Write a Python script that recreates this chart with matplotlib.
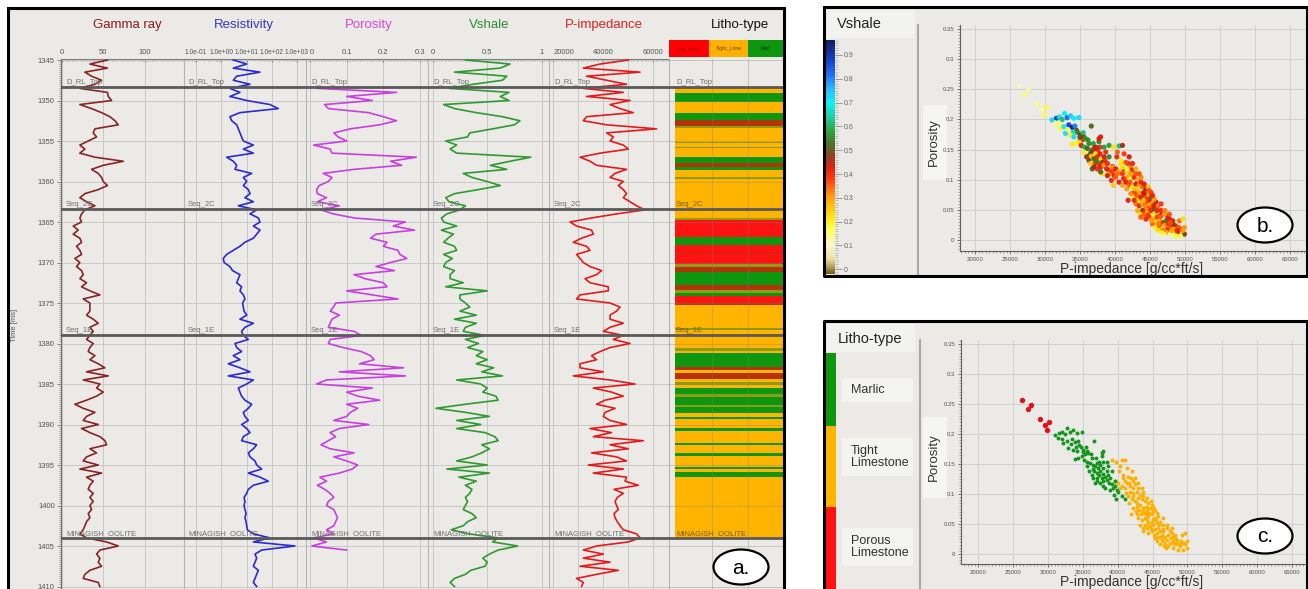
import numpy as np
import matplotlib
matplotlib.use("Agg")
import matplotlib.pyplot as plt
import matplotlib.ticker as mt
from matplotlib.patches import Rectangle, Ellipse
from matplotlib.lines import Line2D
from matplotlib.colors import LinearSegmentedColormap, Normalize

plt.rcParams['font.family'] = ['Liberation Sans', 'DejaVu Sans']

# ---------------------------------------------------------------- data
depth = np.arange(1345.0, 1410.01, 0.5)   # sample grid (ms)

gamma_ray = [55, 34, 55, 28, 36, 48, 40, 22, 55, 56,
             60, 22, 36, 48, 58, 64, 68, 40, 38, 42,
             32, 22, 28, 22, 40, 74, 50, 36, 44, 48,
             50, 55, 44, 28, 22, 30, 40, 28, 24, 22,
             24, 14, 20, 14, 22, 24, 18, 22, 24, 16,
             22, 18, 24, 26, 22, 30, 24, 34, 46, 26,
             34, 34, 34, 30, 38, 44, 34, 38, 34, 30,
             38, 34, 32, 40, 34, 44, 52, 30, 56, 26,
             46, 42, 50, 42, 30, 16, 26, 40, 30, 26,
             44, 24, 34, 46, 52, 54, 34, 42, 30, 26,
             44, 22, 48, 30, 38, 34, 32, 38, 34, 38,
             34, 36, 32, 34, 30, 28, 26, 22, 30, 54,
             68, 46, 42, 46, 44, 48, 34, 28, 26, 44,
             46]

resistivity = [3.0, 10.2, 3.0, 34, 4.1, 3.0, 13.8, 2.2, 5.5, 2.2,
               10.2, 85, 182, 5.5, 2.2, 2.6, 4.1, 4.75, 5.5, 6.4,
               7.5, 18.7, 7.5, 18.7, 1.64, 3.0, 4.1, 3.5, 16, 7.5,
               10.2, 7.5, 11.8, 13.8, 8.7, 18.7, 4.75, 25.3, 13.8, 29.4,
               34.3, 18.7, 34.3, 25.3, 18.7, 8.7, 5.5, 3.0, 1.64, 1.2,
               1.3, 2.2, 2.8, 5.5, 4.75, 4.1, 6.4, 5.5, 7.5, 8.7,
               7.0, 7.5, 8.0, 10.2, 5.5, 18.7, 8.7, 6.4, 7.5, 11.8,
               3.5, 4.1, 6.4, 3.0, 5.5, 1.9, 5.5, 13.8, 1.9, 18.7,
               10.2, 4.75, 5.5, 6.4, 8.7, 16, 11.8, 7.5, 8.7, 11.8,
               6.4, 10.2, 13.8, 7.5, 6.4, 25.3, 18.7, 11.8, 13.8, 21.7,
               25.3, 40, 11.8, 34.3, 73, 18.7, 11.8, 10.2, 8.0, 8.7,
               8.0, 8.7, 9.6, 8.7, 9.6, 10.2, 10.8, 18.7, 85, 18.7,
               830, 40, 21.7, 25.3, 21.7, 18.7, 29.4, 25.3, 21.7, 18.7,
               25.3]

nan = np.nan
porosity = [nan, nan, nan, nan, nan, nan, nan, 0.02, 0.236, 0.10,
            0.17, 0.04, 0.05, 0.16, 0.20, 0.236, 0.19, 0.11, 0.065, 0.077,
            0.10, 0.01, 0.055, 0.06, 0.29, 0.22, 0.25, 0.12, 0.036, 0.06,
            0.05, 0.025, 0.018, 0.02, 0.045, 0.02, 0.08, 0.03, 0.064, 0.12,
            0.26, 0.227, 0.285, 0.18, 0.165, 0.21, 0.20, 0.24, 0.245, 0.264,
            0.22, 0.18, 0.23, 0.12, 0.15, 0.20, 0.21, 0.10, 0.17, 0.24,
            0.07, 0.064, 0.055, 0.08, 0.06, 0.055, 0.05, 0.12, 0.14, 0.055,
            0.05, 0.09, 0.14, 0.165, 0.175, 0.135, 0.255, 0.08, 0.26, 0.045,
            0.018, 0.17, 0.10, 0.13, 0.19, 0.10, 0.13, 0.11, 0.10, 0.065,
            0.16, 0.08, 0.055, 0.07, 0.05, 0.03, 0.055, 0.12, 0.065, 0.10,
            0.13, 0.115, 0.08, 0.027, 0.045, 0.02, 0.04, 0.055, 0.065, 0.05,
            0.045, 0.065, 0.07, 0.075, 0.07, 0.065, 0.045, 0.065, 0.01, 0.045,
            0.005, 0.10, nan, nan, nan, nan, nan, nan, nan, nan,
            nan]

vshale = [0.30, 0.71, 0.62, 0.20, 0.68, 0.64, 0.37, 0.15, 0.70, 0.62,
          0.70, 0.10, 0.20, 0.40, 0.64, 0.80, 0.75, 0.55, 0.34, 0.32,
          0.12, 0.22, 0.16, 0.22, 0.90, 0.71, 0.53, 0.68, 0.28, 0.36,
          0.50, 0.62, 0.42, 0.20, 0.12, 0.15, 0.30, 0.25, 0.13, 0.08,
          0.10, 0.22, 0.08, 0.19, 0.14, 0.10, 0.20, 0.22, 0.10, 0.18,
          0.12, 0.10, 0.20, 0.16, 0.16, 0.28, 0.12, 0.50, 0.25, 0.25,
          0.30, 0.34, 0.25, 0.40, 0.20, 0.40, 0.30, 0.28, 0.48, 0.30,
          0.42, 0.32, 0.46, 0.40, 0.50, 0.40, 0.56, 0.45, 0.64, 0.22,
          0.44, 0.50, 0.46, 0.58, 0.60, 0.30, 0.03, 0.30, 0.52, 0.22,
          0.44, 0.22, 0.48, 0.57, 0.60, 0.45, 0.52, 0.45, 0.36, 0.22,
          0.50, 0.13, 0.52, 0.24, 0.40, 0.30, 0.36, 0.34, 0.30, 0.32,
          0.30, 0.28, 0.36, 0.40, 0.32, 0.28, 0.17, 0.33, 0.60, 0.55,
          0.78, 0.60, 0.52, 0.46, 0.50, 0.48, 0.35, 0.30, 0.20, 0.16,
          0.20]

p_impedance = [50000, 38700, 32000, 54700, 33300, 41300, 49300, 32000, 48000, 33300,
               50700, 42700, 46700, 52000, 33300, 32000, 41300, 61300, 41300, 44000,
               42700, 48000, 50000, 38700, 30700, 34700, 37300, 49300, 44700, 42700,
               48000, 46000, 48000, 49300, 48000, 50700, 53300, 56700, 45300, 35300,
               26700, 29300, 35300, 36000, 31300, 28000, 33300, 34700, 29300, 30700,
               32000, 34700, 39300, 37300, 32700, 34700, 42000, 42000, 30700, 29300,
               42700, 46700, 45300, 42700, 42700, 48000, 42700, 40000, 48000, 44000,
               50700, 42700, 38700, 35300, 37300, 30700, 30700, 40000, 28000, 42700,
               52700, 36000, 43300, 48000, 40700, 37300, 44700, 40700, 40000, 42700,
               49300, 34700, 43300, 36000, 56000, 42700, 50000, 35300, 45300, 49300,
               34000, 48000, 36000, 49300, 48700, 54000, 44300, 48000, 45600, 44700,
               45300, 46000, 44300, 44700, 45600, 46700, 48000, 53300, 54700, 50000,
               37300, 32000, 40000, 32000, 42700, 30700, 46000, 37300, 29300, 32000,
               31300]

horizon_depth = [1348.35, 1363.35, 1378.95, 1404.0]
horizon_name = ['D_RL_Top', 'Seq_2C', 'Seq_1E', 'MINAGISH_OOLITE']

litho_bounds = [1348.4, 1349.1, 1350.2, 1351.5, 1352.4, 1353.15, 1353.4, 1355.1, 1355.25,
                1355.75, 1355.9, 1357.0, 1357.7, 1358.2, 1358.6, 1359.45, 1359.7, 1364.5,
                1364.75, 1366.85, 1367.85, 1368.7, 1368.85, 1370.2, 1370.55, 1371.15, 1372.8,
                1373.4, 1373.75, 1374.15, 1375.0, 1375.25, 1378.1, 1378.35, 1380.55, 1380.95,
                1381.2, 1382.9, 1383.3, 1383.65, 1384.4, 1384.75, 1385.1, 1385.5, 1386.25,
                1386.6, 1387.6, 1387.85, 1388.6, 1389.05, 1389.3, 1390.45, 1390.8, 1392.3,
                1392.55, 1393.5, 1393.9, 1395.25, 1395.5, 1395.85, 1396.5, 1404.0]
litho_code = ['T', 'M', 'T', 'M', 'B', 'O', 'T', 'O', 'T', 'O', 'T', 'M', 'B', 'M', 'T', 'O',
              'T', 'O', 'P', 'M', 'P', 'B', 'P', 'O', 'B', 'M', 'B', 'O', 'M', 'P', 'B', 'T',
              'O', 'T', 'O', 'T', 'M', 'B', 'T', 'B', 'T', 'O', 'T', 'M', 'O', 'M', 'O', 'M',
              'T', 'M', 'T', 'M', 'T', 'M', 'T', 'M', 'T', 'M', 'T', 'M', 'T']

# crossplot samples, by litho-type
porous_imp = [26320, 27660, 27090, 28810, 30200, 29530, 29910]
porous_por = [0.256, 0.249, 0.241, 0.225, 0.220, 0.215, 0.207]
porous_vsh = [0.10, 0.12, 0.15, 0.14, 0.18, 0.12, 0.16]

marl_imp = [31010, 31630, 32060, 32450, 32780, 33160, 33640, 34120, 34840, 36610,
            32210, 32690, 33400, 33880, 34270, 34500, 34030, 32930, 33640, 34700,
            35080, 35560, 35320, 35800, 34840, 34360, 33880, 35170, 35650, 36280,
            36040, 36520, 36990, 36750, 37470, 37860, 37950, 37710, 37230, 36420,
            35940, 36610, 36990, 37470, 37950, 38430, 38670, 38190, 37710, 37090,
            36750, 37950, 38430, 38910, 39150, 39630, 39390, 39870, 38910, 38190,
            39480, 40110, 40580, 41060, 39770, 36900, 36130, 37280, 35460, 34980,
            34120, 33260, 32015, 31490, 35560, 36280, 37380, 37860, 38430, 38570,
            39150, 38810, 39580, 37950, 37470, 36990, 36520, 37710]
marl_por = [0.199, 0.202, 0.204, 0.200, 0.210, 0.203, 0.206, 0.202, 0.203, 0.189,
            0.185, 0.188, 0.191, 0.187, 0.189, 0.182, 0.179, 0.177, 0.174, 0.178,
            0.174, 0.171, 0.166, 0.168, 0.163, 0.160, 0.159, 0.157, 0.154, 0.160,
            0.152, 0.149, 0.152, 0.146, 0.148, 0.154, 0.171, 0.163, 0.143, 0.142,
            0.138, 0.139, 0.135, 0.138, 0.133, 0.138, 0.146, 0.129, 0.126, 0.127,
            0.118, 0.121, 0.124, 0.127, 0.116, 0.122, 0.110, 0.107, 0.107, 0.110,
            0.099, 0.104, 0.096, 0.091, 0.091, 0.160, 0.166, 0.154, 0.178, 0.170,
            0.171, 0.183, 0.192, 0.194, 0.146, 0.132, 0.131, 0.143, 0.154, 0.132,
            0.138, 0.118, 0.114, 0.113, 0.118, 0.122, 0.127, 0.168]
marl_vsh = [0.72, 0.85, 0.68, 0.62, 0.70, 0.82, 0.74, 0.70, 0.72, 0.52,
            0.18, 0.70, 0.86, 0.92, 0.80, 0.50, 0.66, 0.72, 0.20, 0.55,
            0.48, 0.46, 0.40, 0.58, 0.22, 0.18, 0.20, 0.42, 0.60, 0.56,
            0.52, 0.58, 0.40, 0.48, 0.42, 0.40, 0.42, 0.55, 0.22, 0.50,
            0.46, 0.25, 0.52, 0.40, 0.22, 0.44, 0.40, 0.50, 0.40, 0.38,
            0.52, 0.42, 0.30, 0.40, 0.36, 0.42, 0.30, 0.40, 0.44, 0.22,
            0.40, 0.35, 0.42, 0.30, 0.25, 0.58, 0.56, 0.45, 0.62, 0.50,
            0.72, 0.16, 0.15, 0.14, 0.20, 0.48, 0.55, 0.42, 0.58, 0.40,
            0.55, 0.42, 0.38, 0.52, 0.40, 0.45, 0.24, 0.42]

tight_imp = [39150, 39770, 40580, 41060, 40340, 40250, 40820, 39630, 40110, 40580,
             41060, 41300, 41780, 41880, 42160, 42500, 41780, 42260, 42740, 42980,
             43220, 41540, 42020, 42500, 42980, 43460, 43700, 43940, 43220, 42740,
             42260, 41880, 42640, 43120, 43600, 44080, 44410, 44650, 44270, 43790,
             43310, 42980, 43460, 43940, 44410, 44890, 45130, 45370, 44890, 44410,
             43940, 43600, 44170, 44650, 45130, 45610, 45850, 45370, 44890, 44410,
             45610, 46090, 46570, 46330, 45850, 45370, 46810, 47290, 47530, 47050,
             46570, 46090, 47530, 48000, 48240, 48480, 48000, 47290, 46810, 48960,
             49440, 49920, 49680, 48720, 48240, 47760, 47050, 46570, 46090, 45850,
             45610, 45130, 44750, 44170, 43700, 43460, 42980, 42500, 42020, 41300,
             40820, 40340, 41210, 41690, 42160, 42830, 43700, 44270, 44750, 45230,
             45710, 46330, 46950, 47620, 48100, 48580, 49060, 49350, 46570, 47140,
             47760, 43220, 43700, 42740, 42260, 41540, 41060, 46000, 46470, 45040,
             44560, 44080, 45520, 46190, 46660, 47900, 48390, 48870, 49200, 49680,
             49920, 41690, 45370, 44890, 44170]
tight_por = [0.157, 0.154, 0.156, 0.157, 0.146, 0.138, 0.132, 0.121, 0.118, 0.114,
             0.110, 0.118, 0.113, 0.127, 0.121, 0.116, 0.104, 0.102, 0.104, 0.110,
             0.099, 0.096, 0.091, 0.088, 0.093, 0.091, 0.096, 0.088, 0.082, 0.079,
             0.077, 0.066, 0.071, 0.074, 0.077, 0.079, 0.085, 0.077, 0.071, 0.068,
             0.066, 0.060, 0.057, 0.060, 0.063, 0.066, 0.071, 0.060, 0.054, 0.052,
             0.049, 0.043, 0.043, 0.046, 0.049, 0.052, 0.043, 0.041, 0.038, 0.035,
             0.035, 0.038, 0.041, 0.032, 0.029, 0.027, 0.029, 0.032, 0.038, 0.024,
             0.021, 0.017, 0.018, 0.021, 0.027, 0.016, 0.010, 0.013, 0.016, 0.013,
             0.018, 0.010, 0.016, 0.007, 0.032, 0.043, 0.043, 0.049, 0.054, 0.063,
             0.068, 0.079, 0.088, 0.093, 0.104, 0.110, 0.118, 0.127, 0.138, 0.143,
             0.127, 0.110, 0.102, 0.085, 0.096, 0.085, 0.071, 0.057, 0.041, 0.032,
             0.021, 0.024, 0.010, 0.027, 0.016, 0.024, 0.021, 0.007, 0.060, 0.049,
             0.035, 0.049, 0.038, 0.066, 0.110, 0.129, 0.121, 0.049, 0.038, 0.059,
             0.068, 0.066, 0.057, 0.028, 0.013, 0.029, 0.018, 0.016, 0.032, 0.035,
             0.021, 0.118, 0.074, 0.082, 0.077]
tight_vsh = [0.58, 0.22, 0.62, 0.45, 0.35, 0.40, 0.20, 0.30, 0.42, 0.28,
             0.38, 0.44, 0.25, 0.40, 0.33, 0.42, 0.30, 0.18, 0.40, 0.36,
             0.28, 0.42, 0.35, 0.22, 0.44, 0.30, 0.40, 0.34, 0.26, 0.38,
             0.32, 0.42, 0.20, 0.36, 0.30, 0.40, 0.45, 0.28, 0.34, 0.38,
             0.24, 0.33, 0.40, 0.30, 0.36, 0.42, 0.54, 0.28, 0.38, 0.32,
             0.45, 0.22, 0.35, 0.30, 0.40, 0.52, 0.28, 0.18, 0.34, 0.40,
             0.30, 0.38, 0.44, 0.25, 0.20, 0.35, 0.40, 0.55, 0.42, 0.30,
             0.18, 0.22, 0.40, 0.36, 0.52, 0.20, 0.16, 0.28, 0.34, 0.42,
             0.38, 0.48, 0.30, 0.18, 0.42, 0.36, 0.30, 0.40, 0.34, 0.44,
             0.30, 0.38, 0.26, 0.42, 0.32, 0.36, 0.28, 0.40, 0.44, 0.38,
             0.22, 0.34, 0.40, 0.30, 0.36, 0.26, 0.42, 0.32, 0.38, 0.30,
             0.20, 0.35, 0.14, 0.40, 0.30, 0.44, 0.36, 0.18, 0.38, 0.32,
             0.42, 0.28, 0.35, 0.40, 0.30, 0.36, 0.22, 0.40, 0.34, 0.30,
             0.38, 0.26, 0.42, 0.32, 0.20, 0.36, 0.28, 0.40, 0.34, 0.22,
             0.30, 0.18, 0.40, 0.36, 0.44]

imp_ticks = [20000, 25000, 30000, 35000, 40000, 45000, 50000, 55000, 60000, 65000]
por_ticks = [0, 0.05, 0.1, 0.15, 0.2, 0.25, 0.3, 0.35]
por_tick_labels = ['0', '0.05', '0.1', '0.15', '0.2', '0.25', '0.3', '0.35']
vsh_cbar_ticks = [0, 0.1, 0.2, 0.3, 0.4, 0.5, 0.6, 0.7, 0.8, 0.9]

# ---------------------------------------------------------------- helpers
W, H = 1308, 589
fig = plt.figure(figsize=(W / 100, H / 100), dpi=100)
fig.patch.set_facecolor('white')


def fr(x0, y0, x1, y1):
    return [x0 / W, 1 - y1 / H, (x1 - x0) / W, (y1 - y0) / H]


def frect(x0, y0, x1, y1, **kw):
    r = Rectangle((x0 / W, 1 - y1 / H), (x1 - x0) / W, (y1 - y0) / H,
                  transform=fig.transFigure, **kw)
    fig.add_artist(r)
    return r


def fline(xs, ys, **kw):
    fig.add_artist(Line2D([x / W for x in xs], [1 - y / H for y in ys],
                          transform=fig.transFigure, **kw))


def ftext(x, y, s, **kw):
    return fig.text(x / W, 1 - y / H, s, **kw)


def label_ellipse(cx, cy, s):
    e = Ellipse((cx / W, 1 - cy / H), 55 / W, 35 / H, transform=fig.transFigure,
                facecolor='white', edgecolor='black', lw=1.6, zorder=30)
    fig.add_artist(e)
    ftext(cx, cy + 1, s, fontsize=15, ha='center', va='center', zorder=31)


BG = '#EBEAE6'
GRID = '#c8c8c8'
TICKC = '#555555'

# ================================================================ panel a
frect(8, 8, 784, 600, facecolor=BG, edgecolor='none', zorder=-10)
frect(8, 8, 784, 600, facecolor='none', edgecolor='black', lw=2.2, zorder=20)

YTOP, YBOT = 59, 596
ylim = (1345 + (YBOT - 60) / 8.1, 1345 + (YTOP - 60) / 8.1)
depth_major = list(range(1345, 1411, 5))


def make_track(x0, x1, xlim, log=False, top_axis=True):
    ax = fig.add_axes(fr(x0, YTOP, x1, YBOT))
    ax.set_facecolor('none')
    if log:
        ax.set_xscale('log')
    ax.set_xlim(*xlim)
    ax.set_ylim(*ylim)
    for s in ['right', 'bottom']:
        ax.spines[s].set_visible(False)
    ax.spines['top'].set_color('#808080')
    ax.spines['top'].set_linewidth(0.8)
    ax.spines['top'].set_visible(top_axis)
    ax.spines['left'].set_color('#b4b4b4')
    ax.spines['left'].set_linewidth(0.8)
    ax.xaxis.tick_top()
    ax.tick_params(axis='x', which='major', direction='in', length=2.5, width=0.6,
                   color='#707070', labelsize=5.5, labelcolor=TICKC, pad=2)
    ax.tick_params(axis='x', which='minor', direction='in', length=1.5, width=0.4,
                   color='#707070')
    ax.set_yticks(depth_major)
    ax.tick_params(axis='y', which='both', left=False, labelleft=False)
    ax.grid(True, which='major', color=GRID, lw=0.7)
    ax.set_axisbelow(True)
    return ax


def add_horizons(ax, x_off_frac, color='#6e6e6e', colors=None):
    for i, (d, n) in enumerate(zip(horizon_depth, horizon_name)):
        ax.axhline(d, color='#5a5a5a', lw=2.0, zorder=4)
        c = colors[i] if colors else color
        ax.text(x_off_frac, d - 0.12, n, transform=ax.get_yaxis_transform(),
                fontsize=5.5, color=c, va='bottom', ha='left', zorder=5)


LW = 1.2

# Gamma ray
ax_gr = make_track(61, 184, (-0.6, 146.7))
ax_gr.set_xticks([0, 50, 100])
ax_gr.set_xticklabels(['0', '50', '100'])
ax_gr.xaxis.set_minor_locator(mt.MultipleLocator(2))
ax_gr.plot(gamma_ray, depth, color='#8a2424', lw=LW, zorder=3)
ax_gr.spines['left'].set_color('#707070')
ax_gr.tick_params(axis='y', which='major', left=True, labelleft=True, length=3,
                  width=0.6, color='#707070', labelsize=5.5, labelcolor=TICKC, pad=1.5)
ax_gr.set_yticklabels([str(d) for d in depth_major])
ax_gr.yaxis.set_minor_locator(mt.MultipleLocator(0.25))
ax_gr.tick_params(axis='y', which='minor', left=True, length=1.5, width=0.4, color='#707070')
add_horizons(ax_gr, 5 / 123)
ftext(14, 325, 'Time [ms]', rotation=90, fontsize=5.5, color=TICKC, ha='center', va='center')

# Resistivity (log)
ax_rs = make_track(184, 306, (10 ** (-1 - 12 / 25.25), 10 ** (3 + 9 / 25.25)), log=True)
ax_rs.xaxis.set_major_locator(mt.FixedLocator([0.1, 1, 10, 100, 1000]))
ax_rs.xaxis.set_major_formatter(mt.FixedFormatter(['1.0e-01', '1.0e+00', '1.0e+01', '1.0e+02', '1.0e+03']))
ax_rs.xaxis.set_minor_locator(mt.LogLocator(base=10, subs=(2, 3, 4, 5, 6, 7, 8, 9)))
ax_rs.xaxis.set_minor_formatter(mt.NullFormatter())
ax_rs.tick_params(axis='x', which='major', labelsize=4.8, pad=2)
ax_rs.plot(resistivity, depth, color='#2b2bd0', lw=LW, zorder=3)
add_horizons(ax_rs, 4 / 122)

# Porosity
ax_po = make_track(306, 428, (-0.0109, 0.3218))
ax_po.set_xticks([0, 0.1, 0.2, 0.3])
ax_po.set_xticklabels(['0', '0.1', '0.2', '0.3'])
ax_po.xaxis.set_minor_locator(mt.MultipleLocator(0.005))
ax_po.plot(porosity, depth, color='#c840e0', lw=LW, zorder=3)
add_horizons(ax_po, 5 / 122)
plt.setp(ax_po.get_xticklabels()[0], ha='left')

# Vshale
ax_vs = make_track(428, 549, (-0.043, 1.067))
ax_vs.set_xticks([0, 0.5, 1])
ax_vs.set_xticklabels(['0', '0.5', '1'])
ax_vs.xaxis.set_minor_locator(mt.MultipleLocator(0.02))
ax_vs.plot(vshale, depth, color='#2f9a2f', lw=LW, zorder=3)
add_horizons(ax_vs, 5 / 121)

# P-impedance
ax_ip = make_track(549, 669, (18280, 66280))
ax_ip.set_xticks([20000, 40000, 60000])
ax_ip.set_xticklabels(['20000', '40000', '60000'])
ax_ip.xaxis.set_minor_locator(mt.MultipleLocator(1000))
plt.setp(ax_ip.get_xticklabels()[0], ha='left')
for g in [30000, 50000]:
    ax_ip.axvline(g, color=GRID, lw=0.7, zorder=0.5)
ax_ip.plot(p_impedance, depth, color='#e41b1b', lw=LW, zorder=3)
add_horizons(ax_ip, 5 / 120)

# Litho-type column
ax_li = make_track(669, 783, (0, 1), top_axis=False)
ax_li.set_xticks([0.377, 0.693])
ax_li.tick_params(axis='x', which='both', top=False, labeltop=False)
ax_li.set_axisbelow(False)
ax_li.grid(True, which='major', color='#808080', lw=0.7, alpha=0.35)
litho_colors = {'T': '#FFB400', 'M': '#0E960E', 'P': '#FF1212', 'B': '#B4330A', 'O': '#8C9C14'}
tops = np.array(litho_bounds[:-1])
bots = np.array(litho_bounds[1:])
ax_li.barh((tops + bots) / 2, width=0.947, left=0.053, height=bots - tops,
           color=[litho_colors[c] for c in litho_code], edgecolor='none', zorder=1)
add_horizons(ax_li, 7 / 114, colors=['#6e6e6e', '#7a5a00', '#7a5a00', '#7a5a00'])

# header boxes of litho track
frect(669, 40, 709, 57, facecolor='#FF0000', edgecolor='none', zorder=5)
frect(709, 40, 748, 57, facecolor='#FFB000', edgecolor='none', zorder=5)
frect(748, 40, 783, 57, facecolor='#0E960E', edgecolor='none', zorder=5)
ftext(689, 48.5, 'Por_Lime', fontsize=3.8, color='#8a0000', ha='center', va='center', zorder=6)
ftext(728.5, 48.5, 'Tight_Lime', fontsize=3.8, color='#6a4800', ha='center', va='center', zorder=6)
ftext(765.5, 48.5, 'Marl', fontsize=3.8, color='#003a00', ha='center', va='center', zorder=6)

# track titles
for x, t, c in [(127, 'Gamma ray', '#8b1a1a'), (244, 'Resistivity', '#3636cc'),
                (369, 'Porosity', '#dd44dd'), (489, 'Vshale', '#2e8b2e'),
                (604, 'P-impedance', '#e02020'), (740, 'Litho-type', '#111111')]:
    ftext(x, 25, t, fontsize=9.5, color=c, ha='center', va='center')

label_ellipse(741, 567, 'a.')

# ================================================================ crossplots
stops = [(-0.02, '#6e5200'), (0.04, '#e6dc9a'), (0.10, '#fbf6c8'), (0.17, '#ffff40'),
         (0.22, '#ffe000'), (0.30, '#ff9a00'), (0.38, '#ff2a00'), (0.43, '#d41400'),
         (0.48, '#7a3a10'), (0.53, '#3e6a18'), (0.58, '#1e9a2a'), (0.64, '#10c8a0'),
         (0.70, '#00f0f0'), (0.76, '#20b0ff'), (0.82, '#1060f0'), (0.88, '#0030c0'),
         (0.963, '#000a50')]
VMIN, VMAX = -0.02, 0.963
vsh_cmap = LinearSegmentedColormap.from_list(
    'vsh', [((v - VMIN) / (VMAX - VMIN), c) for v, c in stops])
vsh_norm = Normalize(VMIN, VMAX)


def scatter_axes(x0, y0, x1, y1, xlim, ylim_):
    ax = fig.add_axes(fr(x0, y0, x1, y1))
    ax.set_facecolor('none')
    ax.set_xlim(*xlim)
    ax.set_ylim(*ylim_)
    for s in ['top', 'right']:
        ax.spines[s].set_visible(False)
    for s in ['left', 'bottom']:
        ax.spines[s].set_color('#606060')
        ax.spines[s].set_linewidth(0.8)
    ax.set_xticks(imp_ticks)
    ax.set_xticklabels([str(t) for t in imp_ticks])
    ax.xaxis.set_minor_locator(mt.MultipleLocator(500))
    ax.set_yticks(por_ticks)
    ax.set_yticklabels(por_tick_labels)
    ax.yaxis.set_minor_locator(mt.MultipleLocator(0.005))
    ax.tick_params(which='major', length=2.5, width=0.6, color='#606060',
                   labelsize=4.3, labelcolor=TICKC, pad=1.5)
    ax.tick_params(which='minor', length=1.2, width=0.4, color='#606060')
    ax.grid(True, which='major', color='#d0d0d0', lw=0.7)
    ax.set_axisbelow(True)
    return ax


# ---- panel b
frect(824, 7, 1307, 276, facecolor=BG, edgecolor='none', zorder=-10)
frect(825, 10, 915, 38, facecolor='#F2F2F0', edgecolor='none', zorder=-9)
frect(923, 105, 947, 180, facecolor='#F5F5F3', edgecolor='none', zorder=-9)
fline([918, 918], [25, 276], color='#a8a8a8', lw=1.5, zorder=2)
ftext(837, 24, 'Vshale', fontsize=10.5, color='#222222', ha='left', va='center')
ftext(934, 142, 'Porosity', fontsize=9.5, color='#333333', rotation=90, ha='center', va='center')
ftext(1132, 269, 'P-impedance [g/cc*ft/s]', fontsize=10, color='#333333', ha='center', va='center')

ax_b = scatter_axes(960, 25, 1305, 251, (17857, 67140), (-0.018, 0.3565))
all_imp = porous_imp + marl_imp + tight_imp
all_por = porous_por + marl_por + tight_por
all_vsh = porous_vsh + marl_vsh + tight_vsh
sc = ax_b.scatter(all_imp, all_por, c=all_vsh, cmap=vsh_cmap, norm=vsh_norm,
                  s=14, linewidths=0, alpha=0.92, zorder=3)

cax = fig.add_axes(fr(826, 40, 835, 274))
cb = fig.colorbar(sc, cax=cax)
cb.outline.set_visible(False)
cb.set_ticks(vsh_cbar_ticks)
cb.set_ticklabels(['0'] + ['%.1f' % t for t in vsh_cbar_ticks[1:]])
cax.yaxis.set_minor_locator(mt.MultipleLocator(0.01))
cax.tick_params(which='major', length=5, width=0.6, color='#8a8a8a', labelsize=5,
                labelcolor='#666666', pad=1)
cax.tick_params(which='minor', length=2.5, width=0.4, color='#9a9a9a')
fline([824, 1307, 1307, 824, 824], [7, 7, 276, 276, 7], color='black', lw=2.2, zorder=20)
label_ellipse(1265, 225, 'b.')

# ---- panel c
frect(824, 321, 1307, 600, facecolor=BG, edgecolor='none', zorder=-10)
frect(825, 324, 915, 352, facecolor='#F2F2F0', edgecolor='none', zorder=-9)
for y0, y1 in [(378, 402), (438, 476), (528, 566)]:
    frect(842, y0, 913, y1, facecolor='#F3F3F1', edgecolor='none', zorder=-9)
frect(923, 417, 947, 498, facecolor='#F5F5F3', edgecolor='none', zorder=-9)
frect(826, 353, 836, 426, facecolor='#0E960E', edgecolor='none', zorder=2)
frect(826, 426, 836, 507, facecolor='#FFB400', edgecolor='none', zorder=2)
frect(826, 507, 836, 600, facecolor='#FF1212', edgecolor='none', zorder=2)
fline([920, 920], [340, 600], color='#a8a8a8', lw=1.5, zorder=2)
ftext(838, 339, 'Litho-type', fontsize=10.5, color='#222222', ha='left', va='center')
ftext(851, 390, 'Marlic', fontsize=9, color='#333333', ha='left', va='center')
ftext(851, 457, 'Tight\nLimestone', fontsize=9, color='#333333', ha='left', va='center',
      linespacing=1.05)
ftext(851, 547, 'Porous\nLimestone', fontsize=9, color='#333333', ha='left', va='center',
      linespacing=1.05)
ftext(934, 457, 'Porosity', fontsize=9.5, color='#333333', rotation=90, ha='center', va='center')
ftext(1132, 582, 'P-impedance [g/cc*ft/s]', fontsize=10, color='#333333', ha='center', va='center')

ax_c = scatter_axes(961, 340, 1305, 564, (17560, 66850), (-0.0167, 0.3567))
ax_c.scatter(tight_imp, tight_por, color='#FFB000', s=8, linewidths=0, zorder=3)
ax_c.scatter(marl_imp, marl_por, color='#14961e', s=8, linewidths=0, zorder=3)
ax_c.scatter(porous_imp, porous_por, color='#E0101E', s=15, linewidths=0, zorder=3)
fline([824, 1307, 1307], [600, 600, 321], color='black', lw=2.2, zorder=20)
fline([824, 824, 1307], [600, 321, 321], color='black', lw=2.2, zorder=20)
label_ellipse(1265, 536, 'c.')

fig.savefig('out.png', dpi=100, facecolor='white')
